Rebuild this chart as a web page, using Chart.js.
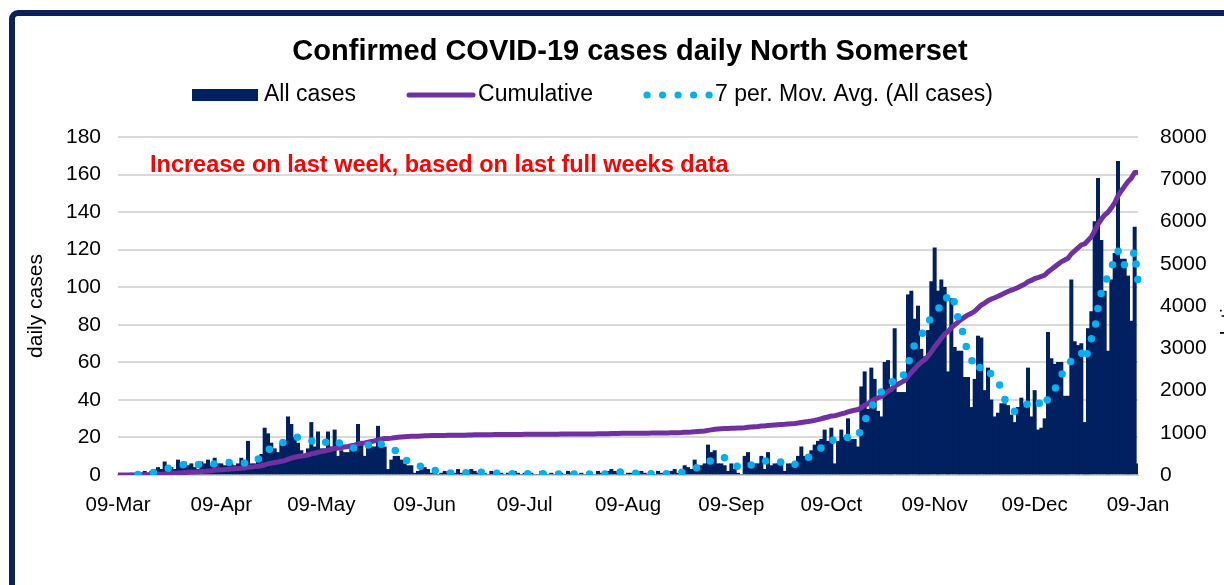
<!DOCTYPE html>
<html>
<head>
<meta charset="utf-8">
<title>Confirmed COVID-19 cases daily North Somerset</title>
<script src="https://cdn.jsdelivr.net/npm/chart.js@4.4.1/dist/chart.umd.min.js"></script>
<style>
  html, body { margin: 0; padding: 0; background: #fff; overflow: hidden; }
  .frame {
    position: absolute; left: 9px; top: 10px; width: 1400px; height: 800px;
    border: 6px solid #0b2158; border-radius: 9px;
  }
  canvas { position: absolute; left: 0; top: 0; }
</style>
</head>
<body>
<div class="frame"></div>
<canvas id="chart" width="1224" height="585"></canvas>
<script>
const chartTitle = 'Confirmed COVID-19 cases daily North Somerset';
const noteText = 'Increase on last week, based on last full weeks data';
const seriesNames = ['All cases', 'Cumulative', '7 per. Mov. Avg. (All cases)'];
const axisTitles = ['daily cases', 'cumulative cases'];

// first day shown is 09-Mar (2020), one bar per day up to 09-Jan
const startDate = Date.UTC(2020, 2, 9);
const monthNames = ['Jan', 'Feb', 'Mar', 'Apr', 'May', 'Jun', 'Jul', 'Aug', 'Sep', 'Oct', 'Nov', 'Dec'];
const tickLabels = ['09-Mar', '09-Apr', '09-May', '09-Jun', '09-Jul', '09-Aug', '09-Sep', '09-Oct', '09-Nov', '09-Dec', '09-Jan'];

// daily confirmed cases
const dailyCases = [
  // 09-Mar .. 08-Apr
  0, 0, 0, 0, 1, 0, 1, 1, 2, 1, 2, 3, 4, 3,
  7, 5, 4, 3, 8, 6, 7, 5, 6, 4, 3, 7, 6, 8, 5, 9, 6,
  // 09-Apr .. 31-May
  6, 5, 8,
  6, 5, 6, 9, 6, 18, 6, 6, 8, 11, 25, 22, 17, 14, 12, 17, 17, 31, 27, 20,
  17, 13, 10, 14, 28, 15, 23, 14, 14, 23, 15, 24, 10, 13, 12, 12, 15, 15, 27, 17,
  10, 16, 15, 15, 26, 15, 15, 3, 8, 10, 10,
  // 01-Jun .. 08-Jun
  8, 6, 5, 5, 1, 2, 4,
  // 09-Jun .. 09-Jul
  4, 3, 1, 2, 0, 1, 2, 1, 0, 1, 3, 1, 0, 2, 3, 2, 1, 1, 1, 0, 2, 1, 0, 1, 0, 1, 0, 2, 1, 0, 1,
  // 10-Jul .. 09-Aug
  0, 1, 0, 0, 2, 1, 0, 1, 0, 0, 1, 0, 2, 1, 0, 0, 1, 0, 1, 0, 0, 2, 1, 0, 2, 3, 2, 1, 2, 0, 1,
  // 10-Aug .. 24-Aug
  1, 0, 0, 2, 1, 0, 1, 0, 2, 1, 0, 1, 2, 3, 1,
  // 25-Aug .. 14-Oct
  2, 5, 4, 3, 8, 5, 5, 6, 16, 12, 13, 6, 6, 5, 2, 6, 3, 1, 0, 10,
  12, 5, 6, 6, 10, 3, 12, 5, 6, 6, 7, 2, 6, 6, 7, 10, 15, 10, 11, 13,
  16, 18, 19, 24, 18, 25, 6, 18, 24, 20, 30,
  // 15-Oct .. 13-Nov
  19, 19, 15, 47, 55, 35, 57, 51, 34, 31, 60, 61, 46, 78, 44, 44, 44, 96, 98, 83,
  90, 67, 63, 77, 103, 121, 98, 104, 100, 55,
  // 14-Nov .. 04-Dec
  94, 68, 66, 66, 52, 52, 36, 51, 74, 73, 45, 57, 40, 31, 33, 38, 38, 37, 32, 28, 36,
  // 05-Dec .. 23-Dec
  41, 38, 57, 31, 45, 24, 25, 30, 76, 62, 59, 60, 60, 42, 42, 104, 71, 69, 70,
  // 24-Dec .. 09-Jan
  28, 78, 87, 135, 158, 125, 98, 66, 104, 118, 167, 115, 115, 106, 82, 132, 6
];

// category labels, one per day
const days = [];
for (let i = 0; i < dailyCases.length; i++) {
  const d = new Date(startDate + i * 86400000);
  days.push(String(d.getUTCDate()).padStart(2, '0') + '-' + monthNames[d.getUTCMonth()]);
}

// running total and 7 day trailing average of the daily cases
const cumulative = [];
let total = 0;
dailyCases.forEach(v => { total += v; cumulative.push(total); });
const movingAvg = dailyCases.map((v, i) => {
  if (i < 6) return null;
  let s = 0;
  for (let k = i - 6; k <= i; k++) s += dailyCases[k];
  return s / 7;
});

const fontFamily = '"Liberation Sans", Arial, sans-serif';
Chart.defaults.font.family = fontFamily;
Chart.defaults.color = '#000';

// title, legend, red note and the (cut off) right axis title
const headerPlugin = {
  id: 'header',
  afterDraw(chart) {
    const ctx = chart.ctx;
    const area = chart.chartArea;
    ctx.save();

    ctx.fillStyle = '#000';
    ctx.textBaseline = 'middle';
    ctx.textAlign = 'center';
    ctx.font = 'bold 29px ' + fontFamily;
    ctx.fillText(chartTitle, (area.left + area.right) / 2 + 2, 52);

    // legend
    const ly = 95;
    let lx = 192;
    ctx.font = '23px ' + fontFamily;
    ctx.textAlign = 'left';
    chart.data.datasets.forEach((ds, i) => {
      const w = 67;
      if (i === 0) {
        ctx.fillStyle = ds.backgroundColor;
        ctx.fillRect(lx, ly - 6, w - 1, 12);
      } else if (i === 1) {
        ctx.strokeStyle = ds.borderColor;
        ctx.lineWidth = 5;
        ctx.lineCap = 'round';
        ctx.beginPath();
        ctx.moveTo(lx + 3, ly);
        ctx.lineTo(lx + w, ly);
        ctx.stroke();
      } else {
        ctx.fillStyle = ds.borderColor;
        for (let k = 0; k < 5; k++) {
          ctx.beginPath();
          ctx.arc(lx + 4 + k * 15.5, ly, 3.6, 0, Math.PI * 2);
          ctx.fill();
        }
      }
      ctx.fillStyle = '#000';
      const tx = lx + w + 5;
      ctx.fillText(ds.label, tx, ly);
      lx = tx + ctx.measureText(ds.label).width + 50;
    });

    ctx.fillStyle = '#ff0000';
    ctx.font = 'bold 23.5px ' + fontFamily;
    ctx.fillText(noteText, area.left + 32, chart.scales.y.getPixelForValue(165));

    ctx.translate(area.right + 91, (area.top + area.bottom) / 2);
    ctx.rotate(-Math.PI / 2);
    ctx.fillStyle = '#000';
    ctx.textAlign = 'center';
    ctx.font = '21px ' + fontFamily;
    ctx.fillText(axisTitles[1], 0, 0);
    ctx.restore();
  }
};

new Chart(document.getElementById('chart'), {
  type: 'bar',
  data: {
    labels: days,
    datasets: [
      {
        type: 'bar',
        label: seriesNames[0],
        data: dailyCases,
        backgroundColor: '#002060',
        borderWidth: 0,
        barPercentage: 1,
        categoryPercentage: 1,
        yAxisID: 'y',
        order: 3
      },
      {
        type: 'line',
        label: seriesNames[1],
        data: cumulative,
        borderColor: '#7030A0',
        borderWidth: 5,
        pointRadius: 0,
        tension: 0,
        yAxisID: 'y2',
        order: 2
      },
      {
        type: 'line',
        label: seriesNames[2],
        data: movingAvg,
        borderColor: '#00B0F0',
        borderWidth: 7.5,
        borderDash: [0, 15.5],
        borderCapStyle: 'round',
        pointRadius: 0,
        tension: 0,
        yAxisID: 'y',
        order: 1
      }
    ]
  },
  options: {
    responsive: false,
    animation: false,
    devicePixelRatio: 1,
    layout: { padding: { top: 137, left: 0, right: 0, bottom: 0 } },
    plugins: {
      legend: { display: false },
      tooltip: { enabled: false }
    },
    scales: {
      x: {
        offset: false,
        grid: { display: false, offset: false },
        border: { display: true, color: '#d0d0d0', width: 2 },
        afterFit: s => { s.height = 110; },
        ticks: {
          autoSkip: false,
          maxRotation: 0,
          minRotation: 0,
          padding: 10,
          font: { size: 20.5 },
          color: '#000',
          callback: function (value) {
            const lab = this.getLabelForValue(value);
            return tickLabels.includes(lab) ? lab : null;
          }
        }
      },
      y: {
        position: 'left',
        min: 0,
        max: 180,
        afterFit: s => { s.width = 118; },
        ticks: { stepSize: 20, padding: 17, font: { size: 21 }, color: '#000' },
        grid: { color: '#d9d9d9', lineWidth: 2, drawTicks: false },
        border: { display: false },
        title: {
          display: true,
          text: axisTitles[0],
          font: { size: 21 },
          color: '#000',
          padding: { top: 24, bottom: 0 }
        }
      },
      y2: {
        position: 'right',
        min: 0,
        max: 8000,
        afterFit: s => { s.width = 86; },
        ticks: {
          stepSize: 1000,
          padding: 22,
          font: { size: 21 },
          color: '#000',
          callback: v => String(v)
        },
        grid: { drawOnChartArea: false, drawTicks: false },
        border: { display: false }
      }
    }
  },
  plugins: [headerPlugin]
});
</script>
</body>
</html>
